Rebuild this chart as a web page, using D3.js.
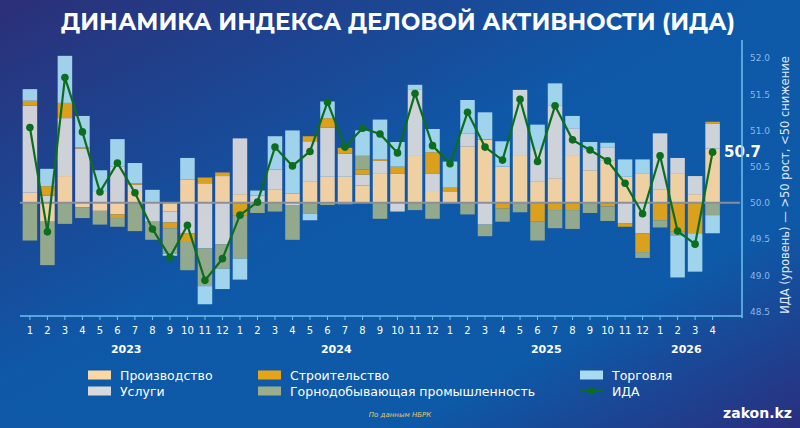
<!DOCTYPE html>
<html><head><meta charset="utf-8">
<script src="https://cdn.jsdelivr.net/npm/d3@7"></script>
<style>body{margin:0;overflow:hidden}svg{display:block}</style>
</head><body><div id="chart"></div>
<script>
'use strict';

const months = ['1','2','3','4','5','6','7','8','9','10','11','12',
  '1','2','3','4','5','6','7','8','9','10','11','12',
  '1','2','3','4','5','6','7','8','9','10','11','12',
  '1','2','3','4']
const years = [{label: '2023', from: 0, to: 11}, {label: '2024', from: 12, to: 23},
  {label: '2025', from: 24, to: 35}, {label: '2026', from: 36, to: 39}]

// contributions, index points
const prod  = [0.14,-0.26,0.37,-0.06,-0.11,-0.16,0.15,0,-0.12,0.32,0.27,0.37,0.12,0,0.18,0.13,0.29,0.36,0.36,0.24,0.4,0.4,
  0.66,0.15,0.15,0.78,0.87,0.5,0.66,0.29,0.34,0.66,0.45,0.58,0.36,0.4,0.18,0.4,0.12,0.75]
const serv  = [1.2,0.1,0.8,0.75,0.15,0.5,0.1,-0.26,-0.15,-0.42,-0.63,-0.57,0.77,0.1,0.28,-0.03,0.56,0.68,0.32,0.15,0.18,-0.12,
  0.9,0.25,0,0.18,-0.3,0,0.9,0.44,1.0,0.37,0.29,0.18,-0.28,-0.42,0.78,0.22,0.25,0.34]
const constr = [0.07,0.13,0.21,0.02,0,-0.05,0.02,0,-0.08,-0.12,0.08,0.05,-0.17,0,0,0,0.07,0.13,0.08,0.07,0.02,0.1,
  0,0.3,0.06,0,0.01,-0.08,0,-0.26,-0.1,-0.1,0,-0.05,-0.05,-0.26,-0.24,-0.4,-0.42,0.03]
const mining = [-0.52,-0.6,-0.29,-0.15,-0.19,-0.12,-0.39,-0.25,-0.35,-0.39,-0.52,-0.34,-0.6,-0.14,-0.12,-0.48,-0.15,-0.03,-0.02,0.19,-0.22,0,
  -0.1,-0.22,0,-0.16,-0.16,-0.18,-0.13,-0.26,-0.25,-0.26,-0.14,-0.2,0,-0.08,-0.1,-0.05,0,-0.17]
const trade = [0.16,0.24,0.65,0.43,0.3,0.38,0.28,0.18,-0.03,0.3,-0.25,-0.28,-0.29,0.07,0.46,0.87,-0.09,0.23,0,0.35,0.55,0.34,
  0.07,0.32,0.36,0.46,0.37,0.35,0,0.35,0.31,0.17,0.1,0.07,0.24,0.2,0,-0.58,-0.53,-0.25]
const ida = [51.04,49.6,51.73,50.98,50.15,50.55,50.14,49.64,49.25,49.69,48.93,49.23,
  49.83,50.01,50.77,50.51,50.71,51.39,50.77,51.03,50.95,50.69,51.51,50.79,
  50.54,51.25,50.77,50.59,51.43,50.57,51.34,50.87,50.73,50.58,50.27,49.85,
  50.65,49.61,49.43,50.7]
const yTicks = [48.5,49.0,49.5,50.0,50.5,51.0,51.5,52.0]

const series = [
  {key: 'prod', name: 'Производство', color: '#fcd7a3', values: prod},
  {key: 'serv', name: 'Услуги', color: '#d9d9dc', values: serv},
  {key: 'constr', name: 'Строительство', color: '#e6a517', values: constr},
  {key: 'mining', name: 'Горнодобывающая промышленность', color: '#9bae8c', values: mining},
  {key: 'trade', name: 'Торговля', color: '#a8daf0', values: trade}
]

const width = 800, height = 428
const svg = d3.select('#chart').append('svg').attr('width', width).attr('height', height)

const defs = svg.append('defs')
const bg = defs.append('linearGradient').attr('id', 'bg').attr('x1', 0).attr('y1', 0).attr('x2', 1).attr('y2', 1)
bg.append('stop').attr('offset', '0%').attr('stop-color', '#2c2f78')
bg.append('stop').attr('offset', '45%').attr('stop-color', '#0f58a8')
bg.append('stop').attr('offset', '75%').attr('stop-color', '#0d5aa8')
bg.append('stop').attr('offset', '100%').attr('stop-color', '#2a2f7e')
svg.append('rect').attr('width', width).attr('height', height).attr('fill', 'url(#bg)')

svg.append('text').attr('x', 398).attr('y', 30).attr('text-anchor', 'middle')
  .style('font-family', 'Montserrat, "Open Sans", sans-serif').style('font-size', 23).style('font-weight', 'bold')
  .attr('fill', 'white').text('ДИНАМИКА ИНДЕКСА ДЕЛОВОЙ АКТИВНОСТИ (ИДА)')

const x = d3.scaleBand().domain(d3.range(months.length)).range([21.25, 721.25]).paddingInner(0.17).paddingOuter(0.08)
const y = d3.scaleLinear().domain([48.5, 52.0]).range([311.5, 58])

const table = months.map((m, i) => {
  const row = {i}
  series.forEach(s => { row[s.key] = s.values[i] })
  return row
})
const stack = d3.stack().keys(series.map(s => s.key)).offset(d3.stackOffsetDiverging)(table)

const chart = svg.append('g')
chart.selectAll('g.layer').data(stack).join('g')
  .attr('fill', (d, i) => series[i].color).attr('opacity', 0.95)
  .selectAll('rect').data(d => d).join('rect')
  .attr('x', d => x(d.data.i))
  .attr('width', x.bandwidth())
  .attr('y', d => y(50 + d[1]))
  .attr('height', d => Math.max(0, y(50 + d[0]) - y(50 + d[1])))

chart.append('line').attr('x1', 20).attr('x2', 740).attr('y1', y(50)).attr('y2', y(50))
  .attr('stroke', '#8a8f9a').attr('stroke-width', 2)

const cx = i => x(i) + x.bandwidth() / 2
chart.append('path').datum(ida)
  .attr('fill', 'none').attr('stroke', '#0b6e1f').attr('stroke-width', 2.2)
  .attr('d', d3.line().x((d, i) => cx(i)).y(d => y(d)))
chart.selectAll('circle').data(ida).join('circle')
  .attr('cx', (d, i) => cx(i)).attr('cy', d => y(d)).attr('r', 3.8).attr('fill', '#0b6e1f')

chart.append('text').attr('x', 724).attr('y', y(ida[ida.length - 1]) + 5)
  .style('font-family', '"DejaVu Sans", sans-serif').style('font-size', 15).style('font-weight', 'bold')
  .attr('fill', 'white').text(ida[ida.length - 1].toFixed(1))

// right axis
const yAxis = svg.append('g').attr('transform', 'translate(742,0)')
  .call(d3.axisRight(y).tickValues(yTicks).tickFormat(d3.format('.1f')).tickSize(0).tickPadding(8))
yAxis.select('.domain').attr('stroke', '#6cc3ee').attr('stroke-width', 1.5).attr('d', 'M0,40V318')
yAxis.selectAll('text').attr('fill', '#8ab8e6').style('font-family', '"DejaVu Sans", sans-serif').style('font-size', 9)
svg.append('text').attr('transform', 'translate(789,185) rotate(-90)').attr('text-anchor', 'middle')
  .style('font-family', '"DejaVu Sans", sans-serif').style('font-size', 11.5).attr('fill', '#dfe8f5')
  .text('ИДА (уровень) — >50 рост, <50 снижение')

// bottom axis
const xAxis = svg.append('g').attr('transform', 'translate(0,316)')
  .call(d3.axisBottom(x).tickFormat(i => months[i]).tickSize(4).tickPadding(7))
xAxis.select('.domain').attr('stroke', '#6cc3ee').attr('stroke-width', 1.5).attr('d', 'M20,0H742')
xAxis.selectAll('line').attr('stroke', '#6cc3ee')
xAxis.selectAll('text').attr('fill', 'white').style('font-family', '"DejaVu Sans", sans-serif').style('font-size', 10)

svg.selectAll('text.year').data(years).join('text').attr('class', 'year')
  .attr('x', d => (cx(d.from) + cx(d.to)) / 2).attr('y', 353).attr('text-anchor', 'middle')
  .style('font-family', '"DejaVu Sans", sans-serif').style('font-size', 11).style('font-weight', 'bold')
  .attr('fill', 'white').text(d => d.label)

// legend
const legend = [
  {s: series[0], x: 88, y: 375}, {s: series[2], x: 258, y: 375}, {s: series[4], x: 580, y: 375},
  {s: series[1], x: 88, y: 391}, {s: series[3], x: 258, y: 391}
]
const lg = svg.append('g').style('font-family', '"DejaVu Sans", sans-serif').style('font-size', 12.5)
legend.forEach(l => {
  lg.append('rect').attr('x', l.x).attr('y', l.y - 4.5).attr('width', 23).attr('height', 9).attr('fill', l.s.color)
  lg.append('text').attr('x', l.x + 32).attr('y', l.y + 4.5).attr('fill', 'white').text(l.s.name)
})
lg.append('line').attr('x1', 580).attr('x2', 603).attr('y1', 391).attr('y2', 391).attr('stroke', '#0b6e1f').attr('stroke-width', 2)
lg.append('circle').attr('cx', 591.5).attr('cy', 391).attr('r', 3.5).attr('fill', '#0b6e1f')
lg.append('text').attr('x', 612).attr('y', 395.5).attr('fill', 'white').text('ИДА')

svg.append('text').attr('x', 400).attr('y', 417).attr('text-anchor', 'middle')
  .style('font-family', '"DejaVu Sans", sans-serif').style('font-size', 7).style('font-style', 'italic')
  .attr('fill', '#e8c86a').text('По данным НБРК')
svg.append('text').attr('x', 792).attr('y', 418).attr('text-anchor', 'end')
  .style('font-family', '"DejaVu Sans", sans-serif').style('font-size', 14).style('font-weight', 'bold')
  .attr('fill', 'white').text('zakon.kz')
</script></body></html>
